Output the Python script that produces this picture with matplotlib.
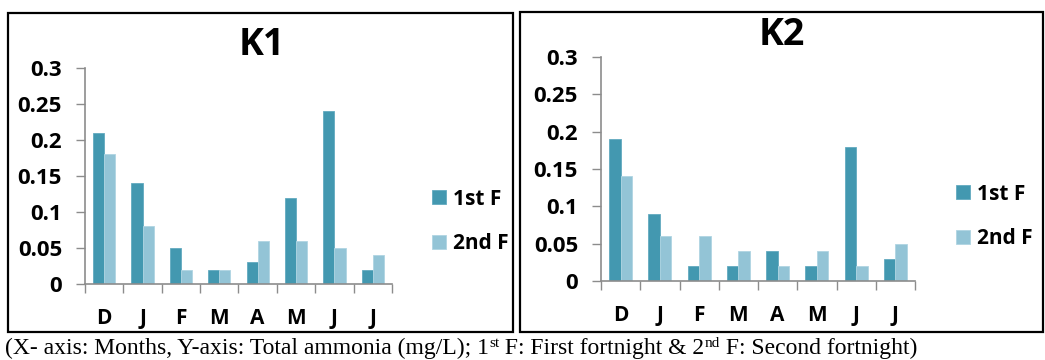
import matplotlib
matplotlib.use('Agg')
import matplotlib.pyplot as plt
import numpy as np
from matplotlib.patches import Rectangle

months = ['D', 'J', 'F', 'M', 'A', 'M', 'J', 'J']
k1_first = [0.21, 0.14, 0.05, 0.02, 0.03, 0.12, 0.24, 0.02]
k1_second = [0.18, 0.08, 0.02, 0.02, 0.06, 0.06, 0.05, 0.04]
k2_first = [0.19, 0.09, 0.02, 0.02, 0.04, 0.02, 0.18, 0.03]
k2_second = [0.14, 0.06, 0.06, 0.04, 0.02, 0.04, 0.02, 0.05]
yticks = [0, 0.05, 0.1, 0.15, 0.2, 0.25, 0.3]
ytick_labels = ['0', '0.05', '0.1', '0.15', '0.2', '0.25', '0.3']

# caption pieces: (text, is_superscript)
caption = [('(X- axis: Months, Y-axis: Total ammonia (mg/L); 1', False), ('st', True),
           (' F: First fortnight & 2', False), ('nd', True), (' F: Second fortnight)', False)]

dark = '#4398b0'
light = '#93c4d6'
axis_grey = '#8c8c8c'

plt.rcParams['font.family'] = ['Open Sans', 'DejaVu Sans']

W, H = 1045, 360
fig = plt.figure(figsize=(W / 100, H / 100), dpi=100)


def px_axes(x0, y0, x1, y1):
    # pixel box (top-left origin) -> figure fraction rect
    return [x0 / W, 1 - y1 / H, (x1 - x0) / W, (y1 - y0) / H]


def panel(box, ax_box, title, title_xy, first, second, leg_xy):
    x0, y0, x1, y1 = box
    fig.patches.append(Rectangle((x0 / W, 1 - y1 / H), (x1 - x0) / W, (y1 - y0) / H,
                                 transform=fig.transFigure, fill=False,
                                 edgecolor='black', linewidth=1.6))
    ax = fig.add_axes(px_axes(*ax_box))
    x = np.arange(len(months))
    w = 0.29
    b1 = ax.bar(x - w / 2, first, w, color=dark, edgecolor='#62aac0', linewidth=0.6, label='1st F')
    b2 = ax.bar(x + w / 2, second, w, color=light, edgecolor='#b0d5e2', linewidth=0.6, label='2nd F')
    ax.set_xlim(-0.5, len(months) - 0.5)
    ax.set_ylim(0, 0.3)
    for s in ['top', 'right']:
        ax.spines[s].set_visible(False)
    for s in ['left', 'bottom']:
        ax.spines[s].set_color(axis_grey)
        ax.spines[s].set_linewidth(1.2)
    ax.set_yticks(yticks)
    ax.set_yticklabels(ytick_labels, fontsize=16, fontweight='bold')
    ax.tick_params(axis='y', length=6.5, width=1.0, color=axis_grey, pad=10)
    ax.set_xticks(np.arange(len(months) + 1) - 0.5)
    ax.set_xticklabels([])
    ax.tick_params(axis='x', which='major', length=6.5, width=1.0, color=axis_grey)
    ax.set_xticks(x, minor=True)
    ax.set_xticklabels(months, minor=True, fontsize=15, fontweight='bold')
    ax.tick_params(axis='x', which='minor', length=0, pad=17)
    fig.text(title_xy[0] / W, 1 - title_xy[1] / H, title, fontsize=27, fontweight='bold',
             ha='center', va='center')
    ax.legend(handles=[b1, b2], loc='center left', bbox_to_anchor=(leg_xy[0] / W, 1 - leg_xy[1] / H),
              bbox_transform=fig.transFigure, frameon=False,
              handlelength=0.65, handleheight=0.65, handletextpad=0.35,
              labelspacing=1.15, borderpad=0, borderaxespad=0,
              prop={'weight': 'bold', 'size': 15, 'family': 'Open Sans'})
    return ax


panel((8, 13, 513, 332), (85, 68, 392, 284), 'K1', (262, 45), k1_first, k1_second, (432, 221.5))
panel((520, 12, 1043, 332), (601, 57, 915, 281), 'K2', (782, 35), k2_first, k2_second, (956, 216.5))

# caption under both panels, laid out piece by piece so the ordinals sit raised
renderer = fig.canvas.get_renderer()
xpos = 5
baseline = 354
for txt, sup in caption:
    t = fig.text(xpos / W, 1 - (baseline - (7 if sup else 0)) / H, txt,
                 fontsize=11 if sup else 17, family='Liberation Serif',
                 va='baseline', ha='left')
    xpos += t.get_window_extent(renderer).width

fig.savefig('out.png', dpi=100)
